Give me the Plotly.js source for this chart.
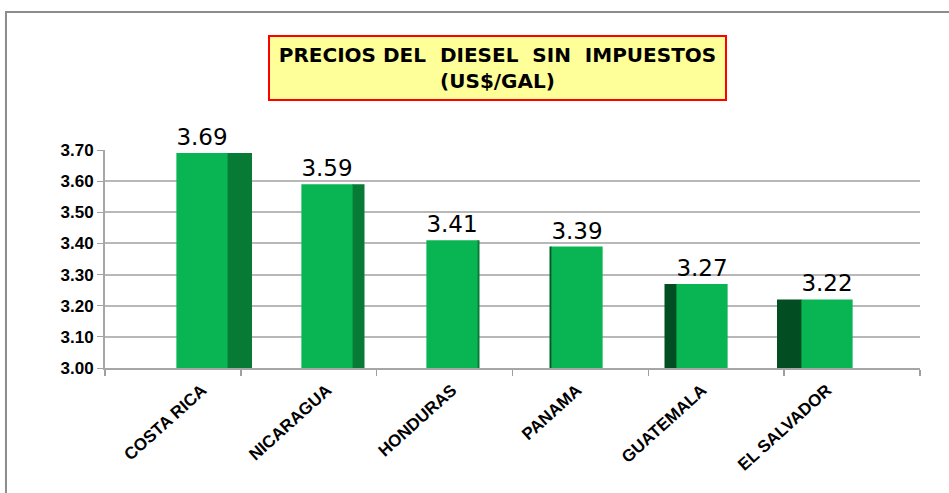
<!DOCTYPE html>
<html>
<head>
<meta charset="utf-8">
<script src="https://cdn.plot.ly/plotly-3.0.1.min.js"></script>
<style>html,body{margin:0;padding:0;background:#fff;}#chart{width:949px;height:493px;}</style>
</head>
<body>
<div id="chart"></div>
<script>
// ---- data ----
var categories = ['COSTA RICA', 'NICARAGUA', 'HONDURAS', 'PANAMA', 'GUATEMALA', 'EL SALVADOR'];
var prices = [3.69, 3.59, 3.41, 3.39, 3.27, 3.22];
var yTickVals = [3.00, 3.10, 3.20, 3.30, 3.40, 3.50, 3.60, 3.70];
var titleLines = ['PRECIOS DEL  DIESEL  SIN  IMPUESTOS', '(US$/GAL)'];

// ---- styles (pseudo-3D side faces) ----
var sideOffsets = [0.2, 0.2, 0.2, -0.22, -0.3, -0.4];
var sideWidths  = [0.2, 0.1, 0.02, 0.02, 0.1, 0.2];
var sideColors  = ['#077A36', '#077A36', '#077A36', '#055A2A', '#034D22', '#034D22'];

var front = {
  type: 'bar', x: categories, y: prices, width: 0.41,
  marker: {color: '#08B552', line: {width: 0}},
  text: prices.map(function(v){return v.toFixed(2);}),
  textposition: 'outside', cliponaxis: false,
  textfont: {family: 'DejaVu Sans', size: 23, color: '#000'},
  hoverinfo: 'x+y', showlegend: false
};
var side = {
  type: 'bar', x: categories, y: prices, width: sideWidths, offset: sideOffsets,
  marker: {color: sideColors, line: {width: 0}},
  hoverinfo: 'skip', showlegend: false
};
var floorHelper = {
  type: 'scatter', x: [0, categories.length], y: [yTickVals[0], yTickVals[0]],
  xaxis: 'x2', yaxis: 'y', mode: 'lines', line: {width: 0}, hoverinfo: 'skip', showlegend: false
};

var layout = {
  width: 949, height: 493,
  margin: {l: 105, r: 29, t: 150, b: 125},
  paper_bgcolor: '#fff', plot_bgcolor: '#fff',
  barmode: 'overlay', showlegend: false,
  xaxis: {
    type: 'category', range: [-0.776, 5.744], showgrid: false, showline: false,
    ticks: '', tickangle: -42, ticklabelstandoff: 8,
    tickfont: {family: 'Liberation Sans', size: 17, weight: 'bold', color: '#000'}
  },
  xaxis2: {
    overlaying: 'x', anchor: 'y', side: 'bottom', range: [0, categories.length],
    tick0: 0, dtick: 1, ticks: 'outside', ticklen: 6, tickcolor: '#A0A0A0', tickwidth: 1.5,
    showticklabels: false, showgrid: false, zeroline: false,
    showline: true, linecolor: '#A6A6A6', linewidth: 2
  },
  yaxis: {
    range: [yTickVals[0], yTickVals[yTickVals.length - 1]],
    tickvals: yTickVals, tickformat: '.2f',
    showgrid: true, gridcolor: '#B8B8B8', gridwidth: 2, zeroline: false,
    showline: true, linecolor: '#A6A6A6', linewidth: 2,
    ticks: 'outside', ticklen: 6, tickcolor: '#A0A0A0',
    tickfont: {family: 'Liberation Sans', size: 17, weight: 'bold', color: '#000'}
  },
  annotations: [{
    xref: 'paper', yref: 'paper', x: 0.4816, y: 1.376, xanchor: 'center', yanchor: 'middle',
    text: titleLines.join('<br>'), showarrow: false, align: 'center',
    width: 455, height: 62, borderpad: 0,
    bgcolor: '#FFFF99', bordercolor: '#FF0000', borderwidth: 2,
    font: {family: 'DejaVu Sans', size: 20, weight: 'bold', color: '#000'}
  }],
  shapes: [{
    type: 'rect', xref: 'paper', yref: 'paper', layer: 'below',
    x0: -0.1215, x1: 1.2, y0: -0.8, y1: 1.633,
    line: {color: '#8C8C8C', width: 2}, fillcolor: 'rgba(0,0,0,0)'
  }]
};

Plotly.newPlot('chart', [side, front, floorHelper], layout, {displayModeBar: false, staticPlot: true});
</script>
</body>
</html>
